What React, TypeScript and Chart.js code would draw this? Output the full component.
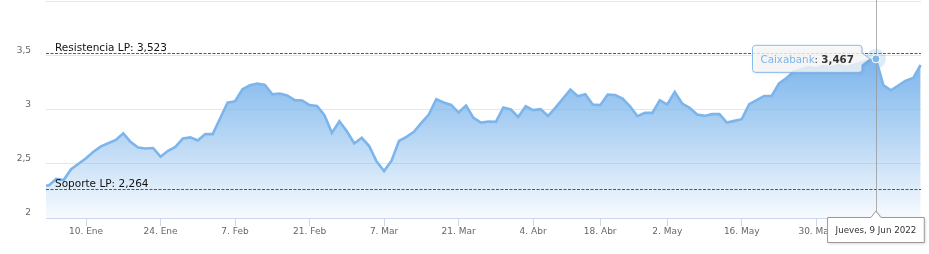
import { useEffect, useRef } from 'react';
import { Chart, registerables } from 'chart.js';

Chart.register(...registerables);

// Daily closes, one per trading day: first = 31 Dic 2021 (index -1), last = 17 Jun 2022 (index 117)
const closes = [
  2.30, 2.30, 2.36, 2.35, 2.45, 2.50, 2.55, 2.61, 2.66, 2.69,
  2.72, 2.78, 2.70, 2.65, 2.64, 2.645, 2.565, 2.62, 2.655, 2.733,
  2.743, 2.715, 2.773, 2.773, 2.92, 3.064, 3.076, 3.187, 3.223, 3.239,
  3.226, 3.14, 3.147, 3.129, 3.086, 3.083, 3.04, 3.033, 2.948, 2.785,
  2.892, 2.80, 2.687, 2.739, 2.663, 2.52, 2.433, 2.528, 2.711, 2.748,
  2.794, 2.877, 2.954, 3.095, 3.064, 3.042, 2.972, 3.037, 2.923, 2.88,
  2.89, 2.886, 3.018, 3.00, 2.932, 3.03, 2.994, 3.003, 2.94, 3.018,
  3.10, 3.184, 3.122, 3.14, 3.046, 3.04, 3.138, 3.134, 3.10, 3.03,
  2.938, 2.969, 2.969, 3.086, 3.046, 3.162, 3.055, 3.015, 2.954, 2.941,
  2.957, 2.957, 2.88, 2.895, 2.911, 3.049, 3.086, 3.125, 3.125, 3.24,
  3.29, 3.35, 3.37, 3.39, 3.38, 3.40, 3.39, 3.41, 3.39, 3.41,
  3.43, 3.45, 3.467, 3.224, 3.177, 3.22, 3.265, 3.29, 3.41,
];
const firstIndex = -1;

const tickIndex = [5, 15, 25, 35, 45, 55, 65, 74, 83, 93, 103];
const tickLabels = ['10. Ene', '24. Ene', '7. Feb', '21. Feb', '7. Mar', '21. Mar', '4. Abr', '18. Abr', '2. May', '16. May', '30. May'];
const yTicks = [2, 2.5, 3, 3.5, 4];
const yLabelled = [2, 2.5, 3, 3.5];

const seriesName = 'Caixabank';
const resistencia = 3.523;
const soporte = 2.264;
const hoverIndex = 111;
const hoverDate = 'Jueves, 9 Jun 2022';
const xMin = -0.37;
const xMax = 117.05;

const BLUE = '#7cb5ec';
const FONT = '"DejaVu Sans", Verdana, sans-serif';
const fmt = (v: number) => String(v).replace('.', ',');

const overlay = {
  id: 'overlay',
  afterDraw(chart: any) {
    const { ctx, chartArea: a, scales } = chart;
    const x = scales.x;
    const y = scales.y;

    // plot lines
    const plotLine = (v: number, color: string, text: string) => {
      const py = Math.round(y.getPixelForValue(v)) + 0.5;
      ctx.save();
      ctx.strokeStyle = color;
      ctx.lineWidth = 1.2;
      ctx.setLineDash([3, 1.5]);
      ctx.beginPath();
      ctx.moveTo(a.left, py);
      ctx.lineTo(a.right, py);
      ctx.stroke();
      ctx.setLineDash([]);
      ctx.fillStyle = '#111';
      ctx.font = `10.5px ${FONT}`;
      ctx.textBaseline = 'alphabetic';
      ctx.textAlign = 'left';
      ctx.fillText(text, a.left + 9, py - 3);
      ctx.restore();
    };
    plotLine(resistencia, 'rgb(0,150,20)', `Resistencia LP: ${fmt(resistencia)}`);
    plotLine(soporte, 'rgb(205,30,60)', `Soporte LP: ${fmt(soporte)}`);

    const hv = closes[hoverIndex - firstIndex];
    const px = x.getPixelForValue(hoverIndex);
    const py = y.getPixelForValue(hv);

    // crosshair
    ctx.save();
    ctx.strokeStyle = 'rgba(150,150,150,0.75)';
    ctx.lineWidth = 1;
    ctx.beginPath();
    ctx.moveTo(Math.round(px) + 0.5, 0);
    ctx.lineTo(Math.round(px) + 0.5, a.bottom);
    ctx.stroke();
    ctx.restore();

    // hover marker
    ctx.save();
    ctx.fillStyle = 'rgba(124,181,236,0.25)';
    ctx.beginPath();
    ctx.arc(px, py, 10, 0, Math.PI * 2);
    ctx.fill();
    ctx.fillStyle = BLUE;
    ctx.strokeStyle = '#fff';
    ctx.lineWidth = 1;
    ctx.beginPath();
    ctx.arc(px, py, 4, 0, Math.PI * 2);
    ctx.fill();
    ctx.stroke();
    ctx.restore();

    // series tooltip
    ctx.save();
    const f1 = `10.3px ${FONT}`;
    const f2 = `bold 10.3px ${FONT}`;
    const t1 = seriesName;
    const t2 = ': ';
    const t3 = fmt(hv);
    ctx.font = f1;
    const w1 = ctx.measureText(t1).width;
    const w2 = ctx.measureText(t2).width;
    ctx.font = f2;
    const w3 = ctx.measureText(t3).width;
    const bw = w1 + w2 + w3 + 16;
    const bh = 27;
    const right = px - 14;
    const left = right - bw;
    const top = py - 13.5;
    const bottom = top + bh;
    const r = 3;
    ctx.beginPath();
    ctx.moveTo(left + r, top);
    ctx.lineTo(right - r, top);
    ctx.quadraticCurveTo(right, top, right, top + r);
    ctx.lineTo(right, py - 6);
    ctx.lineTo(px - 6, py);
    ctx.lineTo(right, py + 6);
    ctx.lineTo(right, bottom - r);
    ctx.quadraticCurveTo(right, bottom, right - r, bottom);
    ctx.lineTo(left + r, bottom);
    ctx.quadraticCurveTo(left, bottom, left, bottom - r);
    ctx.lineTo(left, top + r);
    ctx.quadraticCurveTo(left, top, left + r, top);
    ctx.closePath();
    ctx.shadowColor = 'rgba(0,0,0,0.15)';
    ctx.shadowBlur = 3;
    ctx.shadowOffsetX = 1;
    ctx.shadowOffsetY = 1;
    ctx.fillStyle = 'rgba(250,250,250,0.8)';
    ctx.fill();
    ctx.shadowColor = 'transparent';
    ctx.strokeStyle = 'rgba(124,181,236,0.9)';
    ctx.lineWidth = 1;
    ctx.stroke();
    ctx.textBaseline = 'middle';
    ctx.textAlign = 'left';
    const ty = py + 1.5;
    let tx = left + 8;
    ctx.font = f1;
    ctx.fillStyle = BLUE;
    ctx.fillText(t1, tx, ty);
    tx += w1;
    ctx.fillStyle = '#333';
    ctx.fillText(t2, tx, ty);
    tx += w2;
    ctx.font = f2;
    ctx.fillText(t3, tx, ty);
    ctx.restore();

    // x-axis date label
    ctx.save();
    const f3 = `8.7px ${FONT}`;
    ctx.font = f3;
    const dw = ctx.measureText(hoverDate).width + 16;
    const dl = px - dw / 2;
    const dr = px + dw / 2;
    const dt = a.bottom - 0.5;
    const db = dt + 25;
    ctx.beginPath();
    ctx.moveTo(dl, dt);
    ctx.lineTo(px - 5, dt);
    ctx.lineTo(px, dt - 6.5);
    ctx.lineTo(px + 5, dt);
    ctx.lineTo(dr, dt);
    ctx.lineTo(dr, db);
    ctx.lineTo(dl, db);
    ctx.closePath();
    ctx.shadowColor = 'rgba(0,0,0,0.2)';
    ctx.shadowBlur = 3;
    ctx.shadowOffsetX = 1;
    ctx.shadowOffsetY = 1;
    ctx.fillStyle = '#fff';
    ctx.fill();
    ctx.shadowColor = 'transparent';
    ctx.strokeStyle = '#999';
    ctx.lineWidth = 1;
    ctx.stroke();
    ctx.fillStyle = '#333';
    ctx.textAlign = 'center';
    ctx.textBaseline = 'middle';
    ctx.fillText(hoverDate, px, dt + 13);
    ctx.restore();
  },
};

export default function App() {
  const ref = useRef<HTMLCanvasElement | null>(null);

  useEffect(() => {
    if (!ref.current) return;
    const data = closes.map((v, k) => ({ x: k + firstIndex, y: v }));
    const maxV = Math.max(...closes);
    const chart = new Chart(ref.current, {
      type: 'line',
      data: {
        datasets: [
          {
            label: seriesName,
            data,
            borderColor: BLUE,
            borderWidth: 2.6,
            pointRadius: 0,
            tension: 0,
            fill: 'start',
            clip: { left: 0, right: 2, top: 2, bottom: 0 } as any,
            backgroundColor: (c: any) => {
              const ch = c.chart;
              const a = ch.chartArea;
              if (!a) return 'rgba(124,181,236,0.5)';
              const top = ch.scales.y.getPixelForValue(maxV);
              const g = ch.ctx.createLinearGradient(0, top, 0, a.bottom);
              g.addColorStop(0, 'rgba(124,181,236,1)');
              g.addColorStop(0.5, 'rgba(124,181,236,0.55)');
              g.addColorStop(1, 'rgba(124,181,236,0.06)');
              return g;
            },
          },
        ],
      },
      options: {
        responsive: false,
        animation: false,
        layout: { padding: { left: 0, right: 8, top: 1, bottom: 0 } },
        plugins: { legend: { display: false }, tooltip: { enabled: false } },
        scales: {
          x: {
            type: 'linear',
            min: xMin,
            max: xMax,
            afterBuildTicks: (s: any) => {
              s.ticks = tickIndex.map((v) => ({ value: v }));
            },
            afterFit: (s: any) => {
              s.height = 36;
              s.paddingLeft = 0;
              s.paddingRight = 0;
            },
            ticks: {
              autoSkip: false,
              maxRotation: 0,
              padding: 0,
              color: '#666',
              font: { family: FONT, size: 9 },
              callback: (v: any) => {
                const k = tickIndex.indexOf(Number(v));
                return k >= 0 ? tickLabels[k] : '';
              },
            },
            grid: { drawOnChartArea: false, drawTicks: true, tickLength: 8, color: '#ccd6eb' },
            border: { display: true, color: '#ccd6eb', width: 1 },
          },
          y: {
            type: 'linear',
            min: 2,
            max: 4,
            afterBuildTicks: (s: any) => {
              s.ticks = yTicks.map((v) => ({ value: v }));
            },
            afterFit: (s: any) => {
              s.width = 46;
              s.paddingTop = 0;
              s.paddingBottom = 0;
            },
            ticks: {
              padding: 15,
              labelOffset: -5,
              color: '#666',
              font: { family: FONT, size: 9 },
              callback: (v: any) => (yLabelled.includes(Number(v)) ? fmt(Number(v)) : ''),
            },
            grid: { drawTicks: false, color: '#e6e6e6' },
            border: { display: false },
          },
        },
      },
      plugins: [overlay],
    });
    return () => chart.destroy();
  }, []);

  return (
    <div style={{ position: 'fixed', left: 0, top: 0, width: 929, height: 254, background: '#fff' }}>
      <canvas ref={ref} width={929} height={254} />
    </div>
  );
}
